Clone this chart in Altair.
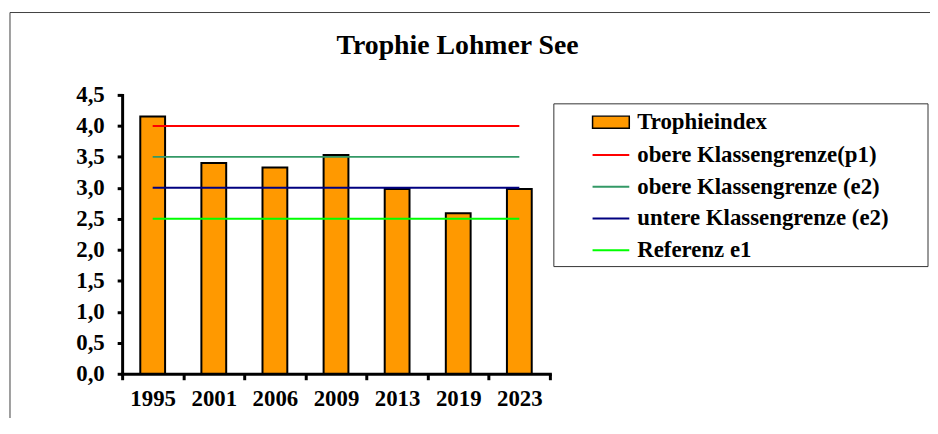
import altair as alt
import pandas as pd

# ---- data ----
years = ["1995", "2001", "2006", "2009", "2013", "2019", "2023"]
trophie = [4.15, 3.40, 3.33, 3.53, 2.98, 2.59, 2.98]
bar_name = "Trophieindex"
bar_color = "#FF9900"

line_names = ["obere Klassengrenze(p1)", "obere Klassengrenze (e2)",
              "untere Klassengrenze (e2)", "Referenz e1"]
line_levels = [4.0, 3.5, 3.0, 2.5]
line_colors = ["#FF0000", "#339966", "#000080", "#00FF00"]

y_ticks = [0.0, 0.5, 1.0, 1.5, 2.0, 2.5, 3.0, 3.5, 4.0, 4.5]
chart_title = "Trophie Lohmer See"

FONT = "Liberation Serif"

bars_df = pd.DataFrame({"Jahr": years, "Wert": trophie, "Serie": bar_name})
lines_df = pd.DataFrame(
    [{"Jahr": y, "Wert": lvl, "Serie": n}
     for n, lvl in zip(line_names, line_levels) for y in years]
)

x_enc = alt.X(
    "Jahr:N", sort=years,
    scale=alt.Scale(paddingInner=0, paddingOuter=0),
    axis=alt.Axis(title=None, labelAngle=0, tickBand="extent",
                  domainWidth=3, domainColor="black", domainCap="square",
                  tickWidth=3, tickSize=6, tickColor="black",
                  labelFont=FONT, labelFontSize=23, labelFontWeight="bold",
                  labelColor="black", labelPadding=8),
)
y_enc = alt.Y(
    "Wert:Q",
    scale=alt.Scale(domain=[0, 4.5], nice=False, zero=True),
    axis=alt.Axis(title=None, values=y_ticks, grid=False,
                  labelExpr="replace(format(datum.value, '.1f'), '.', ',')",
                  domainWidth=3, domainColor="black", domainCap="square",
                  tickWidth=3, tickSize=5, tickColor="black",
                  labelFont=FONT, labelFontSize=23, labelFontWeight="bold",
                  labelColor="black", labelPadding=13),
)

bars = alt.Chart(bars_df).mark_bar(size=25, stroke="black", strokeWidth=2).encode(
    x=x_enc, y=y_enc,
    fill=alt.Fill("Serie:N", scale=alt.Scale(domain=[bar_name], range=[bar_color]),
                  legend=alt.Legend(title=None, orient="none", legendX=473, legendY=8,
                                    symbolType="M-1,-0.33H1V0.33H-1Z", symbolSize=1369,
                                    symbolStrokeColor="black", symbolStrokeWidth=1.5,
                                    labelFont=FONT, labelFontSize=23, labelFontWeight="bold",
                                    labelColor="black", labelOffset=7, labelLimit=400,
                                    padding=0)),
)

lines = alt.Chart(lines_df).mark_line(strokeWidth=2).encode(
    x=x_enc, y=y_enc,
    stroke=alt.Stroke("Serie:N", sort=line_names,
                      scale=alt.Scale(domain=line_names, range=line_colors),
                      legend=alt.Legend(title=None, orient="none", legendX=473, legendY=41,
                                        symbolType="stroke", symbolSize=1369,
                                        symbolStrokeWidth=2,
                                        labelFont=FONT, labelFontSize=23, labelFontWeight="bold",
                                        labelColor="black", labelOffset=7, labelLimit=400,
                                        rowPadding=0, padding=0)),
)

deco_df = pd.DataFrame({"k": [0]})
frame = alt.Chart(deco_df).mark_rect(fill="transparent", stroke="#404040", strokeWidth=1).encode(
    x=alt.value(-113), x2=alt.value(900), y=alt.value(-83), y2=alt.value(400)
)
legend_box = alt.Chart(deco_df).mark_rect(fill="white", stroke="#333333", strokeWidth=1).encode(
    x=alt.value(435), x2=alt.value(812), y=alt.value(9), y2=alt.value(173)
)
title_text = alt.Chart(deco_df).mark_text(
    text=chart_title, font=FONT, fontSize=28, fontWeight="bold", color="black",
    align="center", baseline="alphabetic"
).encode(x=alt.value(338), y=alt.value(-41))

chart = alt.layer(frame, legend_box, title_text, bars, lines).properties(
    width=431, height=281,
    autosize=alt.AutoSizeParams(type="none"),
    padding={"left": 115, "top": 86, "right": 383, "bottom": 43},
    background="white",
).configure_view(stroke=None)

chart.save("out.html", embed_options={"renderer": "svg", "actions": False})
